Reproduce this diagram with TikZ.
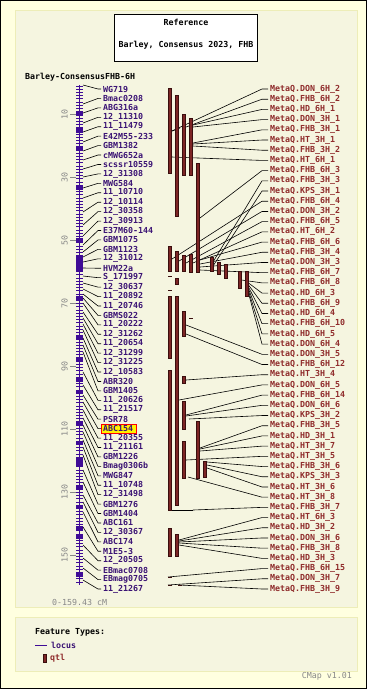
\documentclass[tikz,border=0pt]{standalone}
\usepackage{fontspec}
\setmonofont{DejaVu Sans Mono}
\definecolor{outerbg}{HTML}{FFFFE0}
\definecolor{innerbg}{HTML}{F5F5E0}
\definecolor{panelline}{HTML}{EDEDB8}
\definecolor{loccol}{HTML}{3A1274}
\definecolor{axiscol}{HTML}{3F0C96}
\definecolor{qcol}{HTML}{8F2B2B}
\definecolor{qfill}{HTML}{7D2525}
\definecolor{qdraw}{HTML}{3A0E0E}
\definecolor{scalegray}{HTML}{888888}
\tikzset{
  txt/.style={font=\ttfamily\fontsize{8.3}{9}\selectfont, inner sep=0pt, inner xsep=2pt},
  btxt/.style={font=\ttfamily\bfseries\fontsize{8.3}{9}\selectfont, inner sep=0pt, inner xsep=2pt},
  loclab/.style={btxt, anchor=west, text=loccol},
  qlab/.style={btxt, anchor=west, text=qcol},
  conn/.style={black, line width=0.6pt},
  qbar/.style={fill=qfill, draw=qdraw, line width=0.5pt},
  qdash/.style={qdraw, line width=0.8pt},
  ltick/.style={axiscol, line width=0.8pt},
  stick/.style={scalegray, line width=0.7pt},
  slab/.style={txt, text=scalegray, rotate=90}
}
\begin{document}
\begin{tikzpicture}[x=1pt,y=-1pt]
\useasboundingbox (0,0) rectangle (367,689);
% backgrounds
\fill[outerbg] (0,0) rectangle (367,689);
\draw[black, line width=1pt] (0.5,0.5) rectangle (366.5,688.5);
\draw[panelline, fill=innerbg, line width=1pt] (15,10) rectangle (357,607);
\draw[panelline, fill=innerbg, line width=1pt] (15,617) rectangle (357,671);
% title
\draw[black, fill=white, line width=0.8pt] (114.5,14.5) rectangle (257.5,61.5);
\node[btxt] (title1) at (186,22) {Reference};
\node[btxt] (title2) at (186,45) {Barley, Consensus 2023, FHB};
\node[btxt, anchor=west] (chr) at (23,77) {Barley-ConsensusFHB-6H};
% scale
\foreach \c in {10,30,50,70,90,110,130,150} {
  \pgfmathsetmacro\yy{82.5+3.15*\c}
  \draw[stick] (70,\yy) -- (76,\yy);
  \node[slab] (s\c) at (64.5,\yy) {\c};
}
\node[txt, anchor=west, text=scalegray] (range) at (50,602) {0-159.43 cM};
% axis
\draw[axiscol, line width=1.5pt] (79.5,85) -- (79.5,585);
\foreach \t in {86,89.2,...,584} { \draw[ltick] (76,\t) -- (83,\t); }
\foreach \a/\b in {111/116,128/133,146/150,185/190,238/242,256/271,296/300,336/340,357/361,378/382,390/394,421/425,441/445,458/467,485/489,505/509,526/530,535/539,573/577} {
  \fill[axiscol] (76,\a) rectangle (83,\b);
}
% highlight
\draw[red, fill=yellow, line width=0.8pt] (101.5,424) rectangle (136.5,433);
% left labels
\foreach \nm/\ya [count=\i] in {WG719/85, Bmac0208/104, ABG316a/113, 12\_11310/123, 11\_11479/132, E42M55-233/142, GBM1382/151, cMWG652a/160, scssr10559/169, 12\_31308/177, MWG584/188, 11\_10710/198, 12\_10114/212, 12\_30358/225, 12\_30913/236, E37M60-144/245, GBM1075/252, GBM1123/257, 12\_31012/262, HVM22a/268, S\_171997/276, 12\_30637/283, 11\_20892/289, 11\_20746/294, GBMS022/298, 11\_20222/303, 12\_31262/312, 11\_20654/318, 12\_31299/324, 12\_31225/330, 12\_10583/338, ABR320/345, GBM1405/352, 11\_20626/372, 11\_21517/385, PSR78/395, ABC154/402, 11\_20355/410, 11\_21161/418, GBM1226/425, Bmag0306b/432, MWG847/440, 11\_10748/447, 12\_31498/455, GBM1276/470, GBM1404/482, ABC161/495, 12\_30367/502, ABC174/512, M1E5-3/527, 12\_20505/545, EBmac0708/558, EBmag0705/568, 11\_21267/580} {
  \pgfmathsetmacro\yl{89+(\i-1)*9.434}
  \node[loclab] (L\i) at (101,\yl) {\nm};
  \draw[conn] (83,\ya) -- (98,\yl) -- (L\i.west);
}
% right labels and connectors
\foreach \nm/\xs/\ys [count=\i] in {DON\_6H\_2/172/131, FHB\_6H\_2/186/127, HD\_6H\_1/193/125, DON\_3H\_1/193/127, FHB\_3H\_1/193/143, HT\_3H\_1/193/144, FHB\_3H\_2/193/146, HT\_6H\_1/172/157, FHB\_6H\_3/200/218, FHB\_3H\_3/213/262, KPS\_3H\_1/213/266, FHB\_6H\_4/172/259, DON\_3H\_2/179/261, FHB\_6H\_5/186/263, HT\_6H\_2/193/263, FHB\_6H\_6/200/260, FHB\_3H\_4/200/264, DON\_3H\_3/200/267, FHB\_6H\_7/200/270, FHB\_6H\_8/241.5/280, HD\_6H\_3/248.5/283, FHB\_6H\_9/248.5/285, HD\_6H\_4/248.5/287, FHB\_6H\_10/248.5/289, HD\_6H\_5/248.5/291, DON\_6H\_4/248.5/293, DON\_3H\_5/186/325, FHB\_6H\_12/186/334, HT\_3H\_4/186/380, DON\_6H\_5/179/400, FHB\_6H\_14/186/415, DON\_6H\_6/186/416, KPS\_3H\_2/189/419, FHB\_3H\_5/200/448, HD\_3H\_1/200/449, HT\_3H\_7/200/451, HT\_3H\_5/186/460, FHB\_3H\_6/207/462, KPS\_3H\_3/207/465, HT\_3H\_6/207/468, HT\_3H\_8/188/477, FHB\_3H\_7/193/510, HT\_6H\_3/179/540, HD\_3H\_2/179/541, DON\_3H\_6/179/542, FHB\_3H\_8/179/543, HD\_3H\_3/179/545, FHB\_6H\_15/168/577, DON\_3H\_7/168/585, FHB\_3H\_9/179/585} {
  \pgfmathsetmacro\yr{89+(\i-1)*10.204}
  \node[qlab] (R\i) at (268,\yr) {MetaQ.\nm};
  \draw[conn] (\xs,\ys) -- (262,\yr) -- (R\i.west);
}
\draw[conn] (172,510) -- (193,510);
\draw[conn] (172,131) -- (180,128);
% qtl bars
\foreach \xl/\ta/\tb in {168.3/88.3/173.3, 175.3/95/216.7, 182.3/114.3/175.7, 189.3/118.3/175.7, 196.3/163.3/272.7, 168.3/246/271.7, 175.3/251/271.7, 182.3/255/271.7, 189.3/254.3/272.7, 175.3/278/284.3, 210/257.3/271.7, 217/262.7/274.3, 224/264.3/278.3, 238/271/288.3, 245/271.7/296.7, 168.3/296/358.3, 175.3/296/505, 182.3/311/336, 182.3/376/383.3, 168.3/370/510, 182.3/401/429.3, 196.3/421/478.3, 182.3/441/478.3, 203.3/461/477.7, 168.3/528.3/556.7, 175.3/534.3/556.7} {
  \draw[qbar] (\xl,\ta) rectangle ({\xl+3.4},\tb);
}
\foreach \xl/\yy in {168.3/276.7, 168.3/290, 189.3/318, 168.3/577, 168.3/585, 178/585} {
  \draw[qdash] (\xl,\yy) -- ({\xl+4},\yy);
}
% legend
\node[btxt, anchor=west] (ft) at (33,632) {Feature Types:};
\draw[axiscol, line width=0.8pt] (35,645) coordinate (lg1) -- (47,645) coordinate (lg2);
\node[loclab] (lgloc) at (49,645) {locus};
\draw[qbar] (43,654) rectangle (46.4,662);
\node[qlab] (lgq) at (48,658) {qtl};
\node[txt, anchor=east, text=scalegray] (cmap) at (354,676) {CMap v1.01};
\end{tikzpicture}
\end{document}
